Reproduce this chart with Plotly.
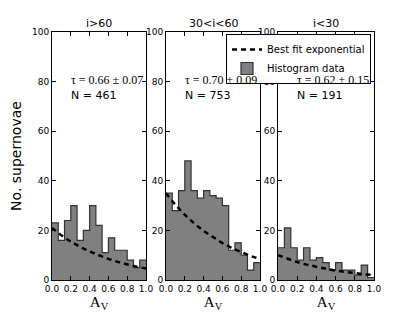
import plotly.graph_objects as go

# ---- data ----
panel_titles = ["i>60", "30<i<60", "i<30"]
bin_edges = [i / 15 for i in range(16)]
hist_i_gt60 = [23, 16, 24, 30, 16, 20, 30, 22, 11, 17, 12, 12, 8, 5, 8]
hist_30_60 = [35, 28, 36, 48, 36, 33, 36, 34, 33, 30, 12, 15, 10, 4, 7]
hist_i_lt30 = [13, 21, 13, 8, 13, 8, 9, 7, 4, 7, 4, 4, 2, 6, 1]
fit_x = [0.0, 0.1, 0.2, 0.3, 0.4, 0.5, 0.6, 0.7, 0.8, 0.9, 1.0]
fit_i_gt60 = [21, 18.0, 15.5, 13.3, 11.5, 9.9, 8.5, 7.3, 6.2, 5.4, 4.6]
fit_30_60 = [35, 30.3, 26.3, 22.8, 19.8, 17.2, 14.9, 12.9, 11.2, 9.7, 8.4]
fit_i_lt30 = [10, 8.5, 7.2, 6.2, 5.2, 4.5, 3.8, 3.2, 2.8, 2.3, 2.0]
tau_labels = ["τ = 0.66 ± 0.07", "τ = 0.70 ± 0.09", "τ = 0.62 ± 0.15"]
n_labels = ["N = 461", "N = 753", "N = 191"]
x_ticks = [0.0, 0.2, 0.4, 0.6, 0.8, 1.0]
y_ticks = [0, 20, 40, 60, 80, 100]

hists = [hist_i_gt60, hist_30_60, hist_i_lt30]
fits = [fit_i_gt60, fit_30_60, fit_i_lt30]

# the page body has an 8px margin, so the figure starts at (8, 8) in the window
OFF = 8
W, H = 415 - OFF, 312 - OFF
ml, mt = 52 - OFF, 32 - OFF
mr = W - (374 - OFF)
mb = H - (280 - OFF)
pw = W - ml - mr
ph = H - mt - mb
px_domains = [(52, 146), (166, 260), (278, 374)]
domains = [((a - 52) / pw, (b - 52) / pw) for a, b in px_domains]

fig = go.Figure()
sans = "DejaVu Sans"
serif = "Liberation Serif"

for i in range(3):
    xa = "x" if i == 0 else f"x{i+1}"
    ya = "y" if i == 0 else f"y{i+1}"
    h = hists[i]
    fig.add_trace(go.Scatter(
        x=bin_edges, y=h + [h[-1]], mode="lines", line=dict(shape="hv", color="#333333", width=1.2),
        fill="tozeroy", fillcolor="#808080", name="Histogram data",
        showlegend=False, xaxis=xa, yaxis=ya, hoverinfo="skip"))
    fig.add_trace(go.Scatter(
        x=fit_x, y=fits[i], mode="lines", line=dict(color="black", width=2.5, dash="5px,4px"),
        name="Best fit exponential", showlegend=(i == 0), legendrank=1,
        xaxis=xa, yaxis=ya, hoverinfo="skip"))

# legend-only entry for the histogram patch
fig.add_trace(go.Bar(x=[None], y=[None], name="Histogram data", legendrank=2,
                     marker=dict(color="#808080", line=dict(color="#333333", width=1.2)),
                     xaxis="x", yaxis="y", hoverinfo="skip"))

axis_common = dict(showline=True, linecolor="black", linewidth=1, mirror="ticks",
                   ticks="inside", ticklen=4, tickcolor="black", showgrid=False, zeroline=False,
                   automargin=False,
                   tickfont=dict(family=sans, size=9, color="black"))
layout = {}
for i in range(3):
    xk = "xaxis" if i == 0 else f"xaxis{i+1}"
    yk = "yaxis" if i == 0 else f"yaxis{i+1}"
    layout[xk] = dict(axis_common, domain=list(domains[i]), range=[0, 1],
                      tickvals=x_ticks, ticktext=[f"{v:.1f}" for v in x_ticks],
                      anchor="y" if i == 0 else f"y{i+1}",
                      title=dict(text="A<sub>V</sub>", font=dict(family=serif, size=15, color="black"), standoff=2))
    layout[yk] = dict(axis_common, domain=[0, 1], range=[0, 100], tickvals=y_ticks,
                      anchor="x" if i == 0 else f"x{i+1}")
layout["yaxis"]["title"] = dict(text="No. supernovae", font=dict(family=sans, size=14, color="black"), standoff=12)

annotations = []
for i in range(3):
    xref = "x" if i == 0 else f"x{i+1}"
    yref = "y" if i == 0 else f"y{i+1}"
    annotations.append(dict(text=panel_titles[i], x=0.5, y=100, xref=xref, yref=yref, yshift=0,
                            showarrow=False, yanchor="bottom", font=dict(family=sans, size=11, color="black")))
    annotations.append(dict(text=tau_labels[i], x=0.18, y=80.5, xref=xref, yref=yref, xanchor="left",
                            showarrow=False, font=dict(family=serif, size=12, color="black")))
    annotations.append(dict(text=n_labels[i], x=0.18, y=74.3, xref=xref, yref=yref, xanchor="left",
                            showarrow=False, font=dict(family=sans, size=11, color="black")))

fig.update_layout(
    width=W, height=H, margin=dict(l=ml, r=mr, t=mt, b=mb, autoexpand=False),
    paper_bgcolor="white", plot_bgcolor="white",
    annotations=annotations,
    legend=dict(x=(226 - 52) / pw, y=1 - 2 / ph, xanchor="left", yanchor="top",
                bgcolor="white", bordercolor="black", borderwidth=1,
                font=dict(family=sans, size=10, color="black"),
                tracegroupgap=0, itemwidth=30),
    **layout)

fig.write_html("out.html")
